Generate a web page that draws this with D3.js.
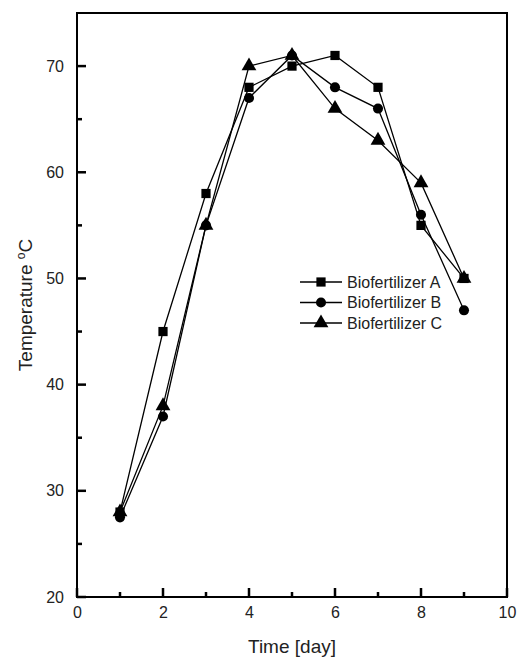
<!DOCTYPE html>
<html>
<head>
<meta charset="utf-8">
<script src="https://cdn.jsdelivr.net/npm/d3@7"></script>
<style>
body { margin: 0; background: #fff; }
text { font-family: "Liberation Sans", Arial, sans-serif; }
</style>
</head>
<body>
<div class="content"></div>
<script>
var days = [1, 2, 3, 4, 5, 6, 7, 8, 9];
var seriesA = [28, 45, 58, 68, 70, 71, 68, 55, 50];
var seriesB = [27.5, 37, 55, 67, 71, 68, 66, 56, 47];
var seriesC = [28, 38, 55, 70, 71, 66, 63, 59, 50];
var seriesNames = ["Biofertilizer A", "Biofertilizer B", "Biofertilizer C"];
var xTicks = [0, 2, 4, 6, 8, 10];
var yTicks = [20, 30, 40, 50, 60, 70];
var xMinor = [1, 3, 5, 7, 9];
var yMinor = [25, 35, 45, 55, 65];

var margin = {top: 13, right: 12, bottom: 60, left: 77},
    width = 519 - margin.left - margin.right,
    height = 657 - margin.top - margin.bottom;

var x = d3.scaleLinear().domain([0, 10]).range([0, width]);
var y = d3.scaleLinear().domain([20, 75]).range([height, 0]);

var svg = d3.select('.content').append("svg").attr("width", 519).attr("height", 657);
var ctrl = svg.append("g").attr("transform", "translate(" + margin.left + "," + margin.top + ")");

function styleAxis(g) {
  g.select(".domain").remove();
  g.selectAll(".tick line").remove();
  g.selectAll("text").attr("font-size", 16).attr("font-family", "Liberation Sans, Arial, sans-serif").attr("fill", "#222");
}

// tick labels
ctrl.append("g").attr("transform", "translate(0," + height + ")")
  .call(d3.axisBottom(x).tickValues(xTicks).tickSize(0).tickPadding(10))
  .call(styleAxis);
ctrl.append("g")
  .call(d3.axisLeft(y).tickValues(yTicks).tickSize(0).tickPadding(13))
  .call(styleAxis);

// frame
ctrl.append("rect").attr("width", width).attr("height", height)
  .attr("fill", "none").attr("stroke", "#000").attr("stroke-width", 2);

// inward tick marks
var tk = ctrl.append("g").attr("fill", "#000");
tk.selectAll(".xt").data(xTicks.concat(xMinor)).enter().append("rect")
  .attr("x", function(d) { return x(d) - 1.25; }).attr("width", 2.5)
  .attr("y", function(d) { return height - (d % 2 === 0 ? 9 : 5); })
  .attr("height", function(d) { return d % 2 === 0 ? 9 : 5; });
tk.selectAll(".yt").data(yTicks.concat(yMinor)).enter().append("rect")
  .attr("y", function(d) { return y(d) - 1.25; }).attr("height", 2.5)
  .attr("x", 0).attr("width", function(d) { return d % 10 === 0 ? 9 : 5; });

var allSeries = [seriesA, seriesB, seriesC];
var symbols = [d3.symbolSquare, d3.symbolCircle, d3.symbolTriangle];
var sizes = [85, 80, 95];

var line = d3.line().x(function(d, i) { return x(days[i]); }).y(function(d) { return y(d); });

allSeries.forEach(function(s, k) {
  ctrl.append("path").datum(s).attr("d", line)
    .attr("fill", "none").attr("stroke", "#000").attr("stroke-width", 1.3);
  ctrl.selectAll(".m" + k).data(s).enter().append("path")
    .attr("class", "m" + k)
    .attr("transform", function(d, i) { return "translate(" + x(days[i]) + "," + y(d) + ")"; })
    .attr("d", d3.symbol().type(symbols[k]).size(sizes[k]))
    .attr("fill", "#000");
});

// legend
var leg = ctrl.append("g");
seriesNames.forEach(function(name, k) {
  var ly = 269 + k * 20.5;
  var lx = 223;
  leg.append("line").attr("x1", lx).attr("x2", lx + 42).attr("y1", ly).attr("y2", ly)
    .attr("stroke", "#000").attr("stroke-width", 1.3);
  leg.append("path").attr("transform", "translate(" + (lx + 21) + "," + ly + ")")
    .attr("d", d3.symbol().type(symbols[k]).size(sizes[k])).attr("fill", "#000");
  leg.append("text").attr("x", lx + 47).attr("y", ly + 5.5).attr("font-size", 16).attr("fill", "#222").text(name);
});

// axis titles
svg.append("text").attr("x", margin.left + width / 2).attr("y", 653)
  .attr("text-anchor", "middle").attr("font-size", 19).attr("fill", "#222").text("Time [day]");
var yt = svg.append("text").attr("transform", "translate(32," + (margin.top + height / 2) + ") rotate(-90)")
  .attr("text-anchor", "middle").attr("font-size", 19).attr("fill", "#222");
yt.append("tspan").text("Temperature ");
yt.append("tspan").attr("font-size", 12).attr("dy", -7).text("o");
yt.append("tspan").attr("dy", 7).text("C");
</script>
</body>
</html>
